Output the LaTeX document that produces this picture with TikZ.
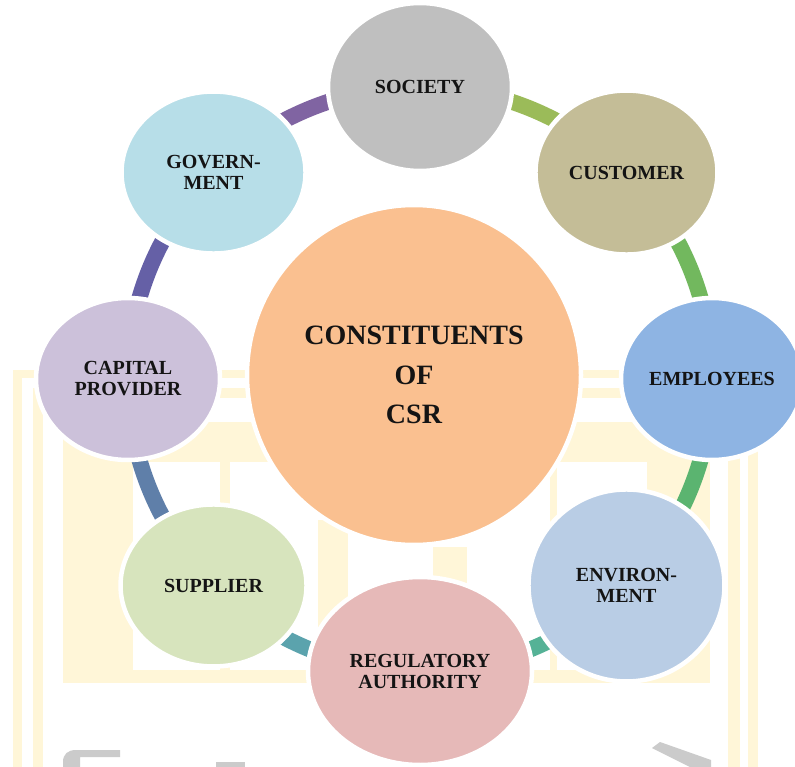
\documentclass[tikz,border=0pt]{standalone}
\usepackage{fontspec}
\setmainfont{Liberation Serif}
\usetikzlibrary{shapes.geometric,calc}
\pgfdeclarelayer{wm}
\pgfdeclarelayer{bg}
\pgfsetlayers{wm,bg,main}
\definecolor{wmyellow}{HTML}{FFF6D8}
\definecolor{wmgray}{HTML}{CBCBCB}
\definecolor{cSoc}{HTML}{BFBFBF}
\definecolor{cCus}{HTML}{C4BD97}
\definecolor{cEmp}{HTML}{8EB4E3}
\definecolor{cEnv}{HTML}{B9CDE5}
\definecolor{cReg}{HTML}{E6B9B8}
\definecolor{cSup}{HTML}{D7E4BD}
\definecolor{cCap}{HTML}{CCC1DA}
\definecolor{cGov}{HTML}{B7DEE8}
\definecolor{cCen}{HTML}{FAC090}
\definecolor{aA}{HTML}{9BBB59}
\definecolor{aB}{HTML}{72B85E}
\definecolor{aC}{HTML}{5BB470}
\definecolor{aD}{HTML}{55B296}
\definecolor{aE}{HTML}{5BA3AD}
\definecolor{aF}{HTML}{5F7FA9}
\definecolor{aG}{HTML}{6560A6}
\definecolor{aH}{HTML}{8064A2}
\tikzset{
  petal/.style={ellipse, draw=white, line width=4.5pt, inner sep=0pt,
    align=center, text=black!92,
    font=\bfseries\fontsize{20}{21}\selectfont},
  hub/.style={petal, font=\bfseries\fontsize{28}{39.5}\selectfont},
  seg/.style={line width=16pt},
  wmfill/.style={fill=wmyellow}
}
\begin{document}
\begin{tikzpicture}[x=1pt,y=-1pt]
\useasboundingbox (0,0) rectangle (795,767);
% faint watermark
\begin{pgfonlayer}{wm}
  \fill[white] (0,0) rectangle (795,767);
  \fill[wmfill] (13,370) rectangle (758,378);
  \fill[wmfill] (13,370) rectangle (22,767);
  \fill[wmfill] (748,370) rectangle (758,767);
  \fill[wmfill] (33,388) rectangle (740,398);
  \fill[wmfill] (33,388) rectangle (43,767);
  \fill[wmfill] (728,388) rectangle (740,767);
  \fill[wmfill] (63,422) rectangle (710,462);
  \fill[wmfill] (63,422) rectangle (133,683);
  \fill[wmfill] (647,422) rectangle (710,683);
  \fill[wmfill] (63,670) rectangle (710,683);
  \fill[wmfill] (220,462) rectangle (230,670);
  \fill[wmfill] (318,520) rectangle (348,670);
  \fill[wmfill] (433,547) rectangle (467,670);
  \fill[wmfill] (550,462) rectangle (557,670);
  \fill[wmgray] (63,767) -- (63,762) .. controls (63,754) and (68,750) .. (76,750) -- (120,750) -- (120,757) -- (80,757) -- (80,767) -- cycle;
  \fill[wmgray] (216,762) rectangle (245,767);
  \fill[wmgray] (652,748) -- (660,742) -- (711,760) -- (711,767) -- (690,767) -- cycle;
\end{pgfonlayer}
\coordinate (ring) at (420,379);
% constituents
\node[hub, fill=cCen, minimum width=334pt, minimum height=340pt] (csr) at (414,375) {CONSTITUENTS\\OF\\CSR};
\node[petal, fill=cSoc, minimum width=184pt, minimum height=168pt] (society) at ($(ring)+(90:292pt)$) {SOCIETY};
\node[petal, fill=cCus, minimum width=182pt, minimum height=164pt] (customer) at ($(ring)+(45:292pt)$) {CUSTOMER};
\node[petal, fill=cEmp, minimum width=182pt, minimum height=162pt] (employees) at ($(ring)+(0:292pt)$) {EMPLOYEES};
\node[petal, fill=cEnv, minimum width=196pt, minimum height=192pt] (environment) at ($(ring)+(-45:292pt)$) {ENVIRON-\\MENT};
\node[petal, fill=cReg, minimum width=224pt, minimum height=188pt] (regulatory) at ($(ring)+(-90:292pt)$) {REGULATORY\\AUTHORITY};
\node[petal, fill=cSup, minimum width=186pt, minimum height=162pt] (supplier) at ($(ring)+(-135:292pt)$) {SUPPLIER};
\node[petal, fill=cCap, minimum width=184pt, minimum height=162pt] (capital) at ($(ring)+(180:292pt)$) {CAPITAL\\PROVIDER};
\node[petal, fill=cGov, minimum width=184pt, minimum height=162pt] (government) at ($(ring)+(135:292pt)$) {GOVERN-\\MENT};
% ring connectors
\begin{pgfonlayer}{bg}
  \draw[seg, aA] (society.center) arc[start angle=90, end angle=45, radius=292pt];
  \draw[seg, aB] (customer.center) arc[start angle=45, end angle=0, radius=292pt];
  \draw[seg, aC] (employees.center) arc[start angle=0, end angle=-45, radius=292pt];
  \draw[seg, aD] (environment.center) arc[start angle=-45, end angle=-90, radius=292pt];
  \draw[seg, aE] (regulatory.center) arc[start angle=-90, end angle=-135, radius=292pt];
  \draw[seg, aF] (supplier.center) arc[start angle=-135, end angle=-180, radius=292pt];
  \draw[seg, aG] (capital.center) arc[start angle=180, end angle=135, radius=292pt];
  \draw[seg, aH] (government.center) arc[start angle=135, end angle=90, radius=292pt];
\end{pgfonlayer}
\end{tikzpicture}
\end{document}
